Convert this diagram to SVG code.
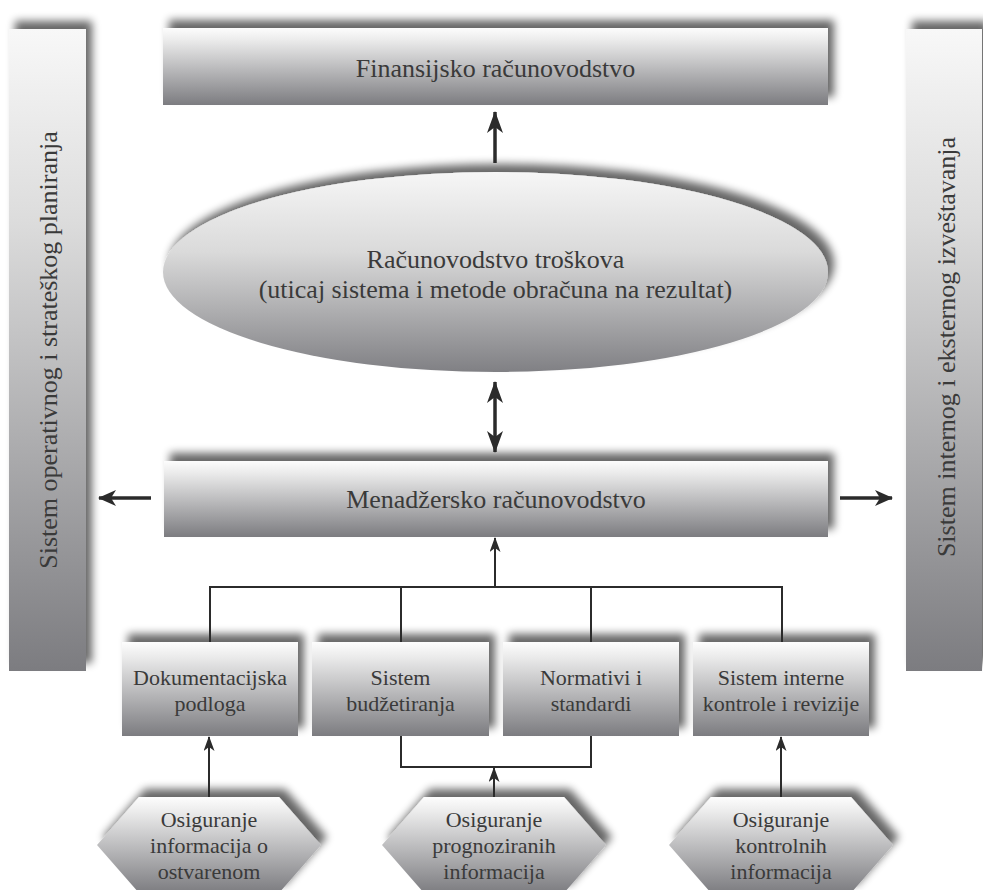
<svg xmlns="http://www.w3.org/2000/svg" width="983" height="890" viewBox="0 0 983 890">
<defs>
<style>
text{font-family:'Liberation Serif','Times New Roman','DejaVu Serif',serif;fill:#3a3a3a;text-anchor:middle}
.l{font-size:26px}
.s{font-size:22px}
.box{fill:url(#g);filter:url(#sh)}
.bar{fill:url(#gb);filter:url(#sh)}
.thick{stroke:#2b2b2b;stroke-width:3.5;fill:none}
.thin{stroke:#2b2b2b;stroke-width:2;fill:none}
</style>
<linearGradient id="g" x1="0" y1="0" x2="0" y2="1">
<stop offset="0" stop-color="#fdfdfd"/>
<stop offset="0.15" stop-color="#ececec"/>
<stop offset="1" stop-color="#7c7c80"/>
</linearGradient>
<linearGradient id="gb" x1="0" y1="0" x2="0" y2="1">
<stop offset="0" stop-color="#f8f8f8"/>
<stop offset="0.3" stop-color="#dcdcdc"/>
<stop offset="1" stop-color="#7c7c80"/>
</linearGradient>
<linearGradient id="ge" x1="0" y1="0" x2="0" y2="1">
<stop offset="0" stop-color="#f6f6f6"/>
<stop offset="0.4" stop-color="#dadada"/>
<stop offset="1" stop-color="#808084"/>
</linearGradient>
<filter id="sh" x="-20%" y="-40%" width="140%" height="180%">
<feGaussianBlur in="SourceAlpha" stdDeviation="4"/>
<feOffset dx="6" dy="-8"/>
<feComponentTransfer><feFuncA type="linear" slope="0.6"/></feComponentTransfer>
<feMerge><feMergeNode/><feMergeNode in="SourceGraphic"/></feMerge>
</filter>
<marker id="big" viewBox="0 0 22 16" markerWidth="22" markerHeight="16" refX="21" refY="8" orient="auto-start-reverse" markerUnits="userSpaceOnUse">
<path d="M0,0 L22,8 L0,16 L6,8 z" fill="#2b2b2b"/>
</marker>
<marker id="mid" viewBox="0 0 18 16" markerWidth="18" markerHeight="16" refX="17" refY="8" orient="auto" markerUnits="userSpaceOnUse">
<path d="M0,0 L18,8 L0,16 L5,8 z" fill="#2b2b2b"/>
</marker>
<marker id="sm" viewBox="0 0 15 11" markerWidth="15" markerHeight="11" refX="14" refY="5.5" orient="auto" markerUnits="userSpaceOnUse">
<path d="M0,0 L15,5.5 L0,11 L4,5.5 z" fill="#2b2b2b"/>
</marker>
</defs>
<rect width="983" height="890" fill="#ffffff"/>

<g id="bar-left">
<rect class="bar" x="9" y="29" width="77" height="642"/>
<text class="l" font-family="Liberation Serif, serif" transform="translate(57,350) rotate(-90)">Sistem operativnog i strateškog planiranja</text>
</g>
<g id="bar-right">
<rect class="bar" x="906" y="29" width="76" height="642"/>
<text class="l" font-family="Liberation Serif, serif" transform="translate(955,347) rotate(-90)">Sistem internog i eksternog izveštavanja</text>
</g>

<g id="finansijsko">
<rect class="box" x="163" y="28" width="665" height="77"/>
<text class="l" x="495.5" y="77">Finansijsko računovodstvo</text>
</g>

<g id="troskovi">
<ellipse cx="495.5" cy="272" rx="332.5" ry="100" fill="url(#ge)" filter="url(#sh)"/>
<text class="l" x="495.5" y="268">Računovodstvo troškova</text>
<text class="l" x="495.5" y="298">(uticaj sistema i metode obračuna na rezultat)</text>
</g>

<g id="menadzersko">
<rect class="box" x="164" y="461" width="664" height="76"/>
<text class="l" x="496" y="508">Menadžersko računovodstvo</text>
</g>

<g id="dokumentacijska">
<rect class="box" x="122" y="642" width="176" height="94"/>
<text class="s" x="210" y="685">Dokumentacijska</text>
<text class="s" x="210" y="711">podloga</text>
</g>
<g id="budzetiranje">
<rect class="box" x="312" y="642" width="177" height="94"/>
<text class="s" x="400.5" y="685">Sistem</text>
<text class="s" x="400.5" y="711">budžetiranja</text>
</g>
<g id="normativi">
<rect class="box" x="503" y="642" width="176" height="94"/>
<text class="s" x="591" y="685">Normativi i</text>
<text class="s" x="591" y="711">standardi</text>
</g>
<g id="interna-kontrola">
<rect class="box" x="693" y="642" width="176" height="94"/>
<text class="s" x="781" y="685">Sistem interne</text>
<text class="s" x="781" y="711">kontrole i revizije</text>
</g>

<g id="osiguranje-ostvareno">
<polygon class="box" points="139,797 279,797 321,845 279,893 139,893 97,845"/>
<text class="s" x="209" y="827">Osiguranje</text>
<text class="s" x="209" y="853">informacija o</text>
<text class="s" x="209" y="879">ostvarenom</text>
</g>
<g id="osiguranje-prognoza">
<polygon class="box" points="424,797 564,797 606,845 564,893 424,893 382,845"/>
<text class="s" x="494" y="827">Osiguranje</text>
<text class="s" x="494" y="853">prognoziranih</text>
<text class="s" x="494" y="879">informacija</text>
</g>
<g id="osiguranje-kontrola">
<polygon class="box" points="711,797 851,797 893,845 851,893 711,893 669,845"/>
<text class="s" x="781" y="827">Osiguranje</text>
<text class="s" x="781" y="853">kontrolnih</text>
<text class="s" x="781" y="879">informacija</text>
</g>

<g id="connectors">
<line class="thick" x1="495" y1="163" x2="495" y2="112" marker-end="url(#big)"/>
<line class="thick" x1="495" y1="452" x2="495" y2="382" marker-start="url(#big)" marker-end="url(#big)"/>
<line class="thick" x1="151" y1="498" x2="99" y2="498" marker-end="url(#mid)"/>
<line class="thick" x1="840" y1="498" x2="892" y2="498" marker-end="url(#mid)"/>
<line class="thin" x1="495" y1="587" x2="495" y2="538" marker-end="url(#sm)"/>
<path class="thin" d="M210,642 V587 H782 V642 M401,587 V642 M591,587 V642"/>
<path class="thin" d="M401,736 V767 H591 V736"/>
<line class="thin" x1="494" y1="797" x2="494" y2="768" marker-end="url(#sm)"/>
<line class="thin" x1="209" y1="797" x2="209" y2="737" marker-end="url(#sm)"/>
<line class="thin" x1="781" y1="797" x2="781" y2="737" marker-end="url(#sm)"/>
</g>
</svg>
